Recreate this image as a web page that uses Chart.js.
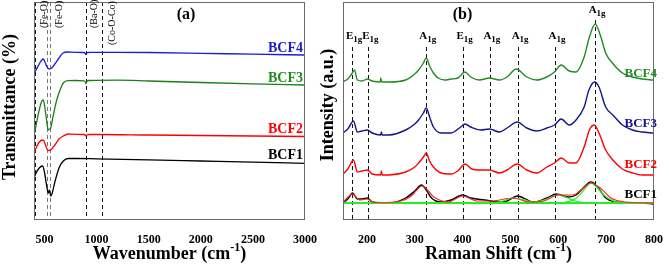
<!DOCTYPE html>
<html lang="en">
<head>
<meta charset="UTF-8">
<title>BCF FTIR and Raman spectra</title>
<script src="https://cdn.jsdelivr.net/npm/chart.js"></script>
<style>
  body { margin: 0; background: #fff; }
  #wrap { position: relative; width: 669px; height: 267px; }
  canvas { position: absolute; top: 0; }
  #ftir { left: 0; }
  #raman { left: 310px; }
</style>
</head>
<body>
<div id="wrap">
  <canvas id="ftir" width="335" height="267"></canvas>
  <canvas id="raman" width="359" height="267"></canvas>
</div>
<script>
// ---- data (a): FTIR, [wavenumber, transmittance offset] ----
const ftirTicks = [500, 1000, 1500, 2000, 2500, 3000];
const ftirBCF4 = [[400,146],[420,149],[450,155],[475,159],[489,160],[505,157],[525,152],[547,150],[570,151],[600,155],[640,161],[678,166],[726,167],[800,166.7],[880,166.5],[893,165.5],[899,164.5],[906,166],[930,166.7],[1000,166.7],[1200,166.7],[1500,166.5],[2000,165.7],[2500,164.8],[3000,164]];
const ftirBCF3 = [[400,84],[420,94],[450,109],[475,118],[489,119],[505,111],[520,99],[537,89],[550,90],[560,91],[580,101],[600,111],[618,119],[650,129],[681,136],[729,138.3],[800,138.5],[880,138.2],[893,137],[899,135.5],[906,137.5],[930,138.5],[1000,138.7],[1200,138.8],[1500,138],[2000,136.5],[2500,135.2],[3000,134]];
const ftirBCF2 = [[400,66],[420,71],[450,77],[489,79],[510,74],[530,69],[547,68.5],[570,70],[600,74],[640,80],[681,83],[729,85],[800,84.7],[880,84.5],[893,83.7],[899,83],[906,84],[930,84.5],[1000,84.5],[1500,84],[2000,83.5],[2500,83],[3000,82.5]];
const ftirBCF1 = [[400,41],[420,46],[450,51],[483,53],[500,47],[520,34],[537,26],[548,29],[560,23],[575,26],[600,37],[640,51],[681,58],[729,60.5],[800,60.5],[1000,60.2],[1500,59.2],[2000,58],[2500,56.8],[3000,55.7]];
const ftirLinesBlack = [410, 899, 1055];
const ftirLinesGray = [528, 554];
const ftirBands = ['(Fe-O)', '(Fe-O)', '(Ba-O)', '(Co-O-Co)'];
const ftirBandAt = [489, 633, 969, 1148];

// ---- data (b): Raman, [shift, intensity offset] ----
const ramanTicks = [200, 300, 400, 500, 600, 700, 800];
const ramanBCF4 = [[150,137.3],[160,140],[168,145],[174,149],[180,139],[190,138],[201,140],[211,138],[228,137],[229,141],[231,137],[246,137],[281,139],[300,145],[308,149],[318,156],[324,161],[331,153],[339,146],[349,141],[363,139],[376,140],[390,141],[405,147],[417,142],[435,139],[456,141],[477,139],[493,142],[512,150],[534,142],[555,139],[576,142],[592,147],[606,154],[623,148],[637,147],[654,162],[665,182],[677,195],[689,182],[699,166],[713,156],[734,146],[755,142],[775,140],[798,139]];
const ramanBCF3 = [[150,86],[160,90],[172,98],[180,87],[190,88],[201,89],[211,86],[229,84],[230,87],[232,84],[246,84],[281,89],[300,95],[308,99],[318,106],[324,111],[331,102],[339,92],[355,86],[376,86],[396,92],[405,95],[417,92],[438,89],[456,90],[477,87],[493,91],[514,97],[534,91],[555,88],[576,91],[592,94],[606,100],[623,94],[637,99],[654,112],[664,129],[676,137],[685,132],[699,112],[714,104],[734,94],[755,89],[775,87],[798,86]];
const ramanBCF2 = [[150,45],[160,50],[172,59],[180,47],[190,48],[201,49],[211,45],[229,44],[230,48],[232,44],[246,44],[281,47],[300,52],[308,56],[318,62],[324,66],[331,58],[339,52],[355,46],[376,45],[390,48],[405,55],[419,50],[435,49],[456,49],[477,46],[493,49],[514,55],[534,49],[555,46],[576,52],[592,56],[606,61],[623,56],[637,56],[654,72],[665,89],[675,94],[685,86],[699,69],[714,59],[734,50],[755,46],[775,44],[798,44]];
const ramanBCF1 = [[150,16],[160,20],[170,26],[180,20],[190,20],[201,21],[211,17],[246,16],[281,21],[300,28],[314,34],[324,29],[335,21],[355,17],[376,19],[400,24],[417,21],[446,19],[477,17],[493,18],[514,23],[549,17],[576,21],[596,25],[621,22],[637,24],[654,32],[668,37],[682,32],[699,21],[720,17],[740,16],[775,16],[798,15]];
const ramanFit = [[150,17],[170,25],[185,19],[200,20],[215,16.5],[260,17],[290,22],[316,33],[340,22],[370,17],[400,23],[430,18],[460,18],[505,21],[540,17],[570,18],[600,24],[630,24],[650,30],[668,36],[690,30],[710,21],[740,17],[800,16]];
const ramanBase = [[150,16],[800,16]];
const ramanPeak670 = [[610,16],[635,20],[650,27],[660,33],[668,36],[680,32],[695,24],[715,18],[740,16]];
const ramanPeak600 = [[540,16],[570,19],[590,23],[600,24],[615,22],[635,18],[660,16]];
const ramanPeak510 = [[460,16],[485,18],[505,21],[520,20],[545,17],[570,16]];
const ramanModes = [169, 203, 323, 400, 457, 516, 593, 677];
const ramanModeSym = ['E', 'E', 'A', 'E', 'A', 'A', 'A', 'A'];

// ---- helpers ----
const serif = '"Liberation Serif", "Times New Roman", serif';
const toXY = pts => pts.map(p => ({ x: p[0], y: p[1] }));

function line(pts, color, width) {
  return {
    data: toXY(pts), borderColor: color, borderWidth: width || 1.3,
    pointRadius: 0, fill: false, cubicInterpolationMode: 'monotone'
  };
}

// parts: [text, size, dy, weight]
function rich(ctx, parts, x, y, align, color, rot) {
  ctx.save();
  ctx.translate(x, y);
  if (rot) ctx.rotate(rot);
  ctx.fillStyle = color || '#000';
  ctx.textBaseline = 'alphabetic';
  ctx.textAlign = 'left';
  const fontOf = p => (p[3] || 'bold') + ' ' + p[1] + 'px ' + serif;
  let w = 0;
  parts.forEach(p => { ctx.font = fontOf(p); w += ctx.measureText(p[0]).width; });
  let cx = align === 'left' ? 0 : align === 'right' ? -w : -w / 2;
  parts.forEach(p => {
    ctx.font = fontOf(p);
    ctx.fillText(p[0], cx, p[2] || 0);
    cx += ctx.measureText(p[0]).width;
  });
  ctx.restore();
}

function vdash(ctx, x, y0, y1, color) {
  ctx.save();
  ctx.setLineDash([4, 3]);
  ctx.strokeStyle = color;
  ctx.lineWidth = 1;
  ctx.beginPath();
  ctx.moveTo(Math.round(x) + 0.5, y0);
  ctx.lineTo(Math.round(x) + 0.5, y1);
  ctx.stroke();
  ctx.restore();
}

function frame(ctx, a) {
  ctx.save();
  ctx.strokeStyle = '#6a6a6a';
  ctx.lineWidth = 1;
  ctx.strokeRect(a.left + 0.5, a.top + 0.5, a.right - a.left - 1, a.bottom - a.top);
  ctx.restore();
}

function axes(ticks, min, max, leftW, ymax) {
  return {
    x: {
      type: 'linear', min: min, max: max,
      afterBuildTicks: s => { s.ticks = ticks.map(v => ({ value: v })); },
      afterFit: s => { s.height = 48; },
      grid: { display: false }, border: { display: false },
      ticks: { color: '#000', padding: 6, autoSkip: false, maxRotation: 0,
               callback: v => String(v),
               font: { family: serif, size: 12, weight: 'bold' } }
    },
    y: {
      min: 0, max: ymax,
      afterFit: s => { s.width = leftW; },
      grid: { display: false }, border: { display: false },
      ticks: { display: false }
    }
  };
}

const ftirDecor = {
  id: 'ftirDecor',
  beforeDatasetsDraw(chart) {
    const { ctx, chartArea: a, scales: { x } } = chart;
    ftirLinesBlack.forEach(v => vdash(ctx, x.getPixelForValue(v), a.top, a.bottom, '#111'));
    ftirLinesGray.forEach(v => vdash(ctx, x.getPixelForValue(v), a.top, a.bottom, '#777'));
  },
  afterDraw(chart) {
    const { ctx, chartArea: a, scales: { x } } = chart;
    frame(ctx, a);
    ftirBands.forEach((t, i) =>
      rich(ctx, [[t, 10, 0, 'normal']], x.getPixelForValue(ftirBandAt[i]) + 3.5, i === 3 ? 45 : 28, 'left', '#000', -Math.PI / 2));
    rich(ctx, [['(a)', 16]], 186, 19, 'center');
    rich(ctx, [['BCF4', 14]], 303, 52, 'right', '#1c1cc8');
    rich(ctx, [['BCF3', 14]], 303, 82, 'right', '#1e8c1e');
    rich(ctx, [['BCF2', 14]], 303, 133, 'right', '#ff0000');
    rich(ctx, [['BCF1', 14]], 303, 159, 'right', '#000');
    rich(ctx, [['Wavenumber (cm', 18], ['-1', 12, -8], [')', 18]], (a.left + a.right) / 2, 259, 'center');
    rich(ctx, [['Transmittance (%)', 18]], 15, 107, 'center', '#000', -Math.PI / 2);
  }
};

const ramanDecor = {
  id: 'ramanDecor',
  beforeDatasetsDraw(chart) {
    const { ctx, chartArea: a, scales: { x } } = chart;
    ramanModes.forEach((v, i) =>
      vdash(ctx, x.getPixelForValue(v), i === ramanModes.length - 1 ? 20 : 47, a.bottom, '#111'));
  },
  afterDraw(chart) {
    const { ctx, chartArea: a, scales: { x } } = chart;
    frame(ctx, a);
    ramanModes.forEach((v, i) => {
      const top = i === ramanModes.length - 1;
      rich(ctx, [[ramanModeSym[i], 11], ['1g', 9, 3]], x.getPixelForValue(v) + 2, top ? 13 : 39, 'center');
    });
    rich(ctx, [['(b)', 16]], 152.5, 19, 'center');
    rich(ctx, [['BCF4', 13]], 347, 77, 'right', '#228b22');
    rich(ctx, [['BCF3', 13]], 347, 127, 'right', '#14148c');
    rich(ctx, [['BCF2', 13]], 347, 168, 'right', '#ff0000');
    rich(ctx, [['BCF1', 13]], 347, 198, 'right', '#000');
    rich(ctx, [['Raman Shift (cm', 18], ['-1', 12, -8], [')', 18]], (a.left + a.right) / 2, 259, 'center');
    rich(ctx, [['Intensity (a.u.)', 18]], 23, 105, 'center', '#000', -Math.PI / 2);
  }
};

new Chart(document.getElementById('ftir'), {
  type: 'line',
  data: {
    datasets: [
      line(ftirBCF4, '#1c1cd8'),
      line(ftirBCF3, '#1a7f1a'),
      line(ftirBCF2, '#ff0000'),
      line(ftirBCF1, '#000000')
    ]
  },
  options: {
    responsive: false,
    animation: false,
    layout: { padding: { top: 2, right: 30, left: 0, bottom: 0 } },
    plugins: { legend: { display: false }, tooltip: { enabled: false } },
    scales: axes(ftirTicks, 400, 3000, 34, 217)
  },
  plugins: [ftirDecor]
});

new Chart(document.getElementById('raman'), {
  type: 'line',
  data: {
    datasets: [
      line(ramanFit, '#ff2a2a', 1.2),
      line(ramanPeak670, '#22ee22', 1.2),
      line(ramanPeak600, '#22ee22', 1.2),
      line(ramanPeak510, '#22ee22', 1.2),
      line(ramanBase, '#22ee22', 2),
      line(ramanBCF1, '#000000', 1.4),
      line(ramanBCF2, '#ff0000', 1.4),
      line(ramanBCF3, '#14148c', 1.4),
      line(ramanBCF4, '#228b22', 1.4)
    ]
  },
  options: {
    responsive: false,
    animation: false,
    layout: { padding: { top: 2, right: 10, left: 0, bottom: 0 } },
    plugins: { legend: { display: false }, tooltip: { enabled: false } },
    scales: axes(ramanTicks, 150, 800, 33, 217)
  },
  plugins: [ramanDecor]
});
</script>
</body>
</html>
